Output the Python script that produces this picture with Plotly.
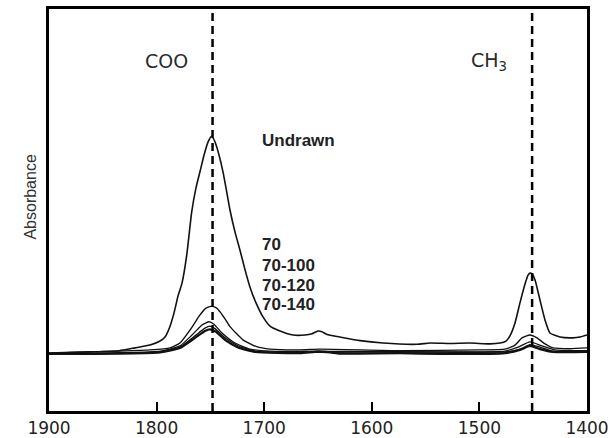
import plotly.graph_objects as go

# ---- data (wavenumber cm^-1, absorbance a.u.) ----
wn_undrawn = [1900.0, 1861.9, 1834.9, 1820.1, 1806.1, 1796.8, 1792.2, 1787.5, 1783.8, 1780.1,
              1776.4, 1772.0, 1767.4, 1763.4, 1759.7, 1755.9, 1752.2, 1748.8, 1745.7, 1742.0,
              1738.3, 1735.5, 1731.8, 1727.1, 1722.5, 1717.8, 1713.2, 1707.6, 1701.1, 1694.6,
              1685.3, 1673.2, 1662.1, 1655.6, 1650.0, 1646.3, 1641.6, 1629.6, 1611.0, 1589.6,
              1558.0, 1545.9, 1527.3, 1508.7, 1490.1, 1480.9, 1475.3, 1471.6, 1466.9, 1462.3,
              1457.6, 1454.8, 1453.0, 1451.1, 1448.3, 1443.7, 1439.0, 1434.4, 1425.1, 1413.0,
              1406.5, 1400.0]
ab_undrawn = [0.144, 0.147, 0.150, 0.157, 0.164, 0.174, 0.184, 0.211, 0.244, 0.286,
              0.318, 0.388, 0.495, 0.555, 0.595, 0.637, 0.669, 0.684, 0.669, 0.637,
              0.595, 0.555, 0.500, 0.445, 0.400, 0.351, 0.308, 0.269, 0.234, 0.211,
              0.199, 0.189, 0.189, 0.192, 0.199, 0.197, 0.190, 0.184, 0.175, 0.169,
              0.166, 0.169, 0.168, 0.169, 0.167, 0.169, 0.174, 0.187, 0.219, 0.269,
              0.316, 0.338, 0.343, 0.341, 0.326, 0.276, 0.226, 0.194, 0.184, 0.182,
              0.184, 0.189]

wn_70 = [1900.0, 1806.1, 1787.5, 1778.3, 1769.0, 1759.7, 1754.1, 1748.8, 1744.8, 1741.1,
         1736.4, 1731.8, 1719.7, 1707.0, 1694.6, 1666.7, 1648.1, 1573.8, 1499.4, 1476.2,
         1466.9, 1460.4, 1453.0, 1446.5, 1439.0, 1431.6, 1415.8, 1400.0]
ab_70 = [0.144, 0.152, 0.157, 0.169, 0.201, 0.239, 0.256, 0.261, 0.257, 0.247,
         0.229, 0.210, 0.177, 0.160, 0.154, 0.152, 0.154, 0.150, 0.152, 0.154,
         0.164, 0.182, 0.189, 0.182, 0.167, 0.157, 0.155, 0.157]

wn_70_100 = [1900.0, 1796.8, 1778.3, 1767.1, 1757.8, 1751.3, 1746.7, 1739.2, 1727.1, 1713.2,
             1694.6, 1620.3, 1527.3, 1476.2, 1464.1, 1453.0, 1441.8, 1429.7, 1400.0]
ab_70_100 = [0.143, 0.149, 0.162, 0.189, 0.214, 0.222, 0.216, 0.194, 0.169, 0.154,
             0.149, 0.148, 0.147, 0.149, 0.159, 0.172, 0.162, 0.152, 0.150]

wn_70_120 = [1900.0, 1796.8, 1778.3, 1764.3, 1755.0, 1750.4, 1745.7, 1736.4, 1724.3, 1708.6,
             1666.7, 1573.8, 1476.2, 1462.3, 1453.0, 1443.7, 1431.6, 1400.0]
ab_70_120 = [0.142, 0.147, 0.159, 0.187, 0.206, 0.211, 0.205, 0.182, 0.162, 0.149,
             0.146, 0.147, 0.147, 0.154, 0.165, 0.159, 0.149, 0.148]

wn_70_140 = [1900.0, 1796.8, 1778.3, 1764.3, 1755.0, 1750.4, 1744.8, 1736.4, 1724.3, 1708.6,
             1666.7, 1650.0, 1638.8, 1629.6, 1573.8, 1536.6, 1476.2, 1462.3, 1453.0, 1443.7,
             1431.6, 1400.0]
ab_70_140 = [0.142, 0.146, 0.157, 0.182, 0.199, 0.203, 0.197, 0.177, 0.158, 0.147,
             0.144, 0.148, 0.146, 0.143, 0.144, 0.142, 0.144, 0.152, 0.162, 0.154,
             0.147, 0.147]

series_names = ["Undrawn", "70", "70-100", "70-120", "70-140"]
band_positions = [1748, 1451]
band_labels = ["COO", "CH<sub>3</sub>"]
band_label_x = [1791, 1491]
band_label_y = 0.870
sample_label_x = 1704
sample_label_y = [0.674, 0.413, 0.363, 0.313, 0.266]
x_ticks = [1900, 1800, 1700, 1600, 1500, 1400]

fig = go.Figure()
series = [(wn_undrawn, ab_undrawn, 1.6), (wn_70, ab_70, 1.4), (wn_70_100, ab_70_100, 1.3),
          (wn_70_120, ab_70_120, 1.3), (wn_70_140, ab_70_140, 2.3)]
for (xs, ys, w), name in zip(series, series_names):
    fig.add_trace(go.Scatter(x=xs, y=ys, mode="lines", name=name,
                             line=dict(color="#111111", width=w, shape="spline", smoothing=0.5),
                             showlegend=False))

for xv in band_positions:
    fig.add_shape(type="line", xref="x", yref="paper", x0=xv, x1=xv, y0=0, y1=1,
                  line=dict(color="black", width=2.5, dash="8px,5px"))

for lbl, xv in zip(band_labels, band_label_x):
    fig.add_annotation(x=xv, y=band_label_y, text=lbl, showarrow=False,
                       font=dict(family="DejaVu Sans", size=19, color="#2a2a2a"))

for lbl, yv in zip(series_names, sample_label_y):
    fig.add_annotation(x=sample_label_x, y=yv, text="<b>%s</b>" % lbl, showarrow=False,
                       xanchor="left", font=dict(family="Liberation Sans, Arial", size=17, color="#222222"))

fig.add_annotation(xref="paper", yref="paper", x=-0.054, y=0.532, text="Absorbance",
                   textangle=-90, showarrow=False,
                   font=dict(family="Liberation Sans, Arial", size=16, color="#333333"))

fig.update_layout(
    width=613, height=438,
    margin=dict(l=49, r=26, t=9, b=27),
    paper_bgcolor="white", plot_bgcolor="white",
    xaxis=dict(range=[1900, 1400], tickvals=x_ticks, ticks="inside", ticklen=9, tickwidth=2,
               tickcolor="black", showline=True, linecolor="black", linewidth=3, mirror=True,
               showgrid=False, zeroline=False, automargin=False,
               tickfont=dict(family="DejaVu Sans", size=17, color="#222222")),
    yaxis=dict(range=[0, 1], showticklabels=False, ticks="", showline=True, linecolor="black",
               linewidth=3, mirror=True, showgrid=False, zeroline=False, automargin=False),
)

fig.write_html("out.html")
